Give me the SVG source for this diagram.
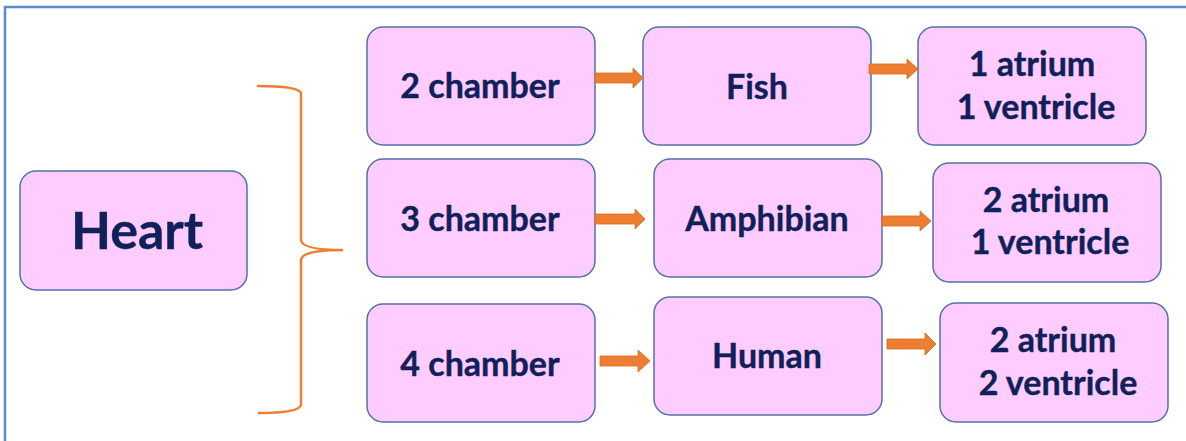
<svg xmlns="http://www.w3.org/2000/svg" width="1186" height="441" viewBox="0 0 1186 441">
<style>
.box{fill:#ffccff;stroke:#5470a8;stroke-width:1.5}
.t{font-family:Lato,"Open Sans",sans-serif;font-weight:bold;font-size:34px;fill:#10215a;text-anchor:middle;stroke:#10215a;stroke-width:0.4}
.big{font-size:52px}
.arr{fill:#ed7d31;stroke:#d86c22;stroke-width:0.8}
.brace{fill:none;stroke:#ed7d31;stroke-width:2.5;stroke-linecap:round}
</style>
<rect x="0" y="0" width="1186" height="441" fill="#ffffff"/>
<path d="M5,441 L5,7 L1186,7" fill="none" stroke="#5b8bc9" stroke-width="2.5"/>
<g id="heart"><rect class="box" x="20" y="171" width="227" height="119" rx="16"/><text class="t big" x="137" y="249">Heart</text></g>
<g id="c2"><rect class="box" x="367" y="27" width="228" height="118" rx="16"/><text class="t" x="480" y="98">2 chamber</text></g>
<g id="fish"><rect class="box" x="643" y="27" width="228" height="118" rx="16"/><text class="t" x="757" y="99">Fish</text></g>
<g id="fishheart"><rect class="box" x="918" y="27" width="228" height="118" rx="16"/><text class="t" x="1032" y="76">1 atrium</text><text class="t" x="1036" y="119">1 ventricle</text></g>
<g id="c3"><rect class="box" x="367" y="159" width="228" height="118" rx="16"/><text class="t" x="480" y="231">3 chamber</text></g>
<g id="amph"><rect class="box" x="654" y="159" width="228" height="118" rx="16"/><text class="t" x="767" y="231">Amphibian</text></g>
<g id="amphheart"><rect class="box" x="933" y="163" width="228" height="119" rx="16"/><text class="t" x="1046" y="212">2 atrium</text><text class="t" x="1050" y="254">1 ventricle</text></g>
<g id="c4"><rect class="box" x="367" y="304" width="228" height="118" rx="16"/><text class="t" x="480" y="376">4 chamber</text></g>
<g id="human"><rect class="box" x="654" y="297" width="228" height="118" rx="16"/><text class="t" x="767" y="368">Human</text></g>
<g id="humanheart"><rect class="box" x="940" y="303" width="228" height="119" rx="16"/><text class="t" x="1053" y="352">2 atrium</text><text class="t" x="1058" y="395">2 ventricle</text></g>
<g id="connectors">
<path class="brace" d="M258,86 Q298,86 301,93 L301,240 Q302,250 343,250 Q302,250 301,260 L301,405 Q299,413 259,413"/>
<path class="arr" d="M595,73 L633,73 L633,68 L643,78 L633,88 L633,83 L595,83 Z"/>
<path class="arr" d="M869,64 L907,64 L907,59 L918,69 L907,79 L907,74 L869,74 Z"/>
<path class="arr" d="M595,214 L635,214 L635,209 L645,219 L635,229 L635,224 L595,224 Z"/>
<path class="arr" d="M882,216 L920,216 L920,211 L931,221 L920,231 L920,226 L882,226 Z"/>
<path class="arr" d="M600,356 L638,356 L638,350 L650,361 L638,372 L638,366 L600,366 Z"/>
<path class="arr" d="M887,339 L925,339 L925,333 L936,344 L925,355 L925,349 L887,349 Z"/>
</g>
</svg>
